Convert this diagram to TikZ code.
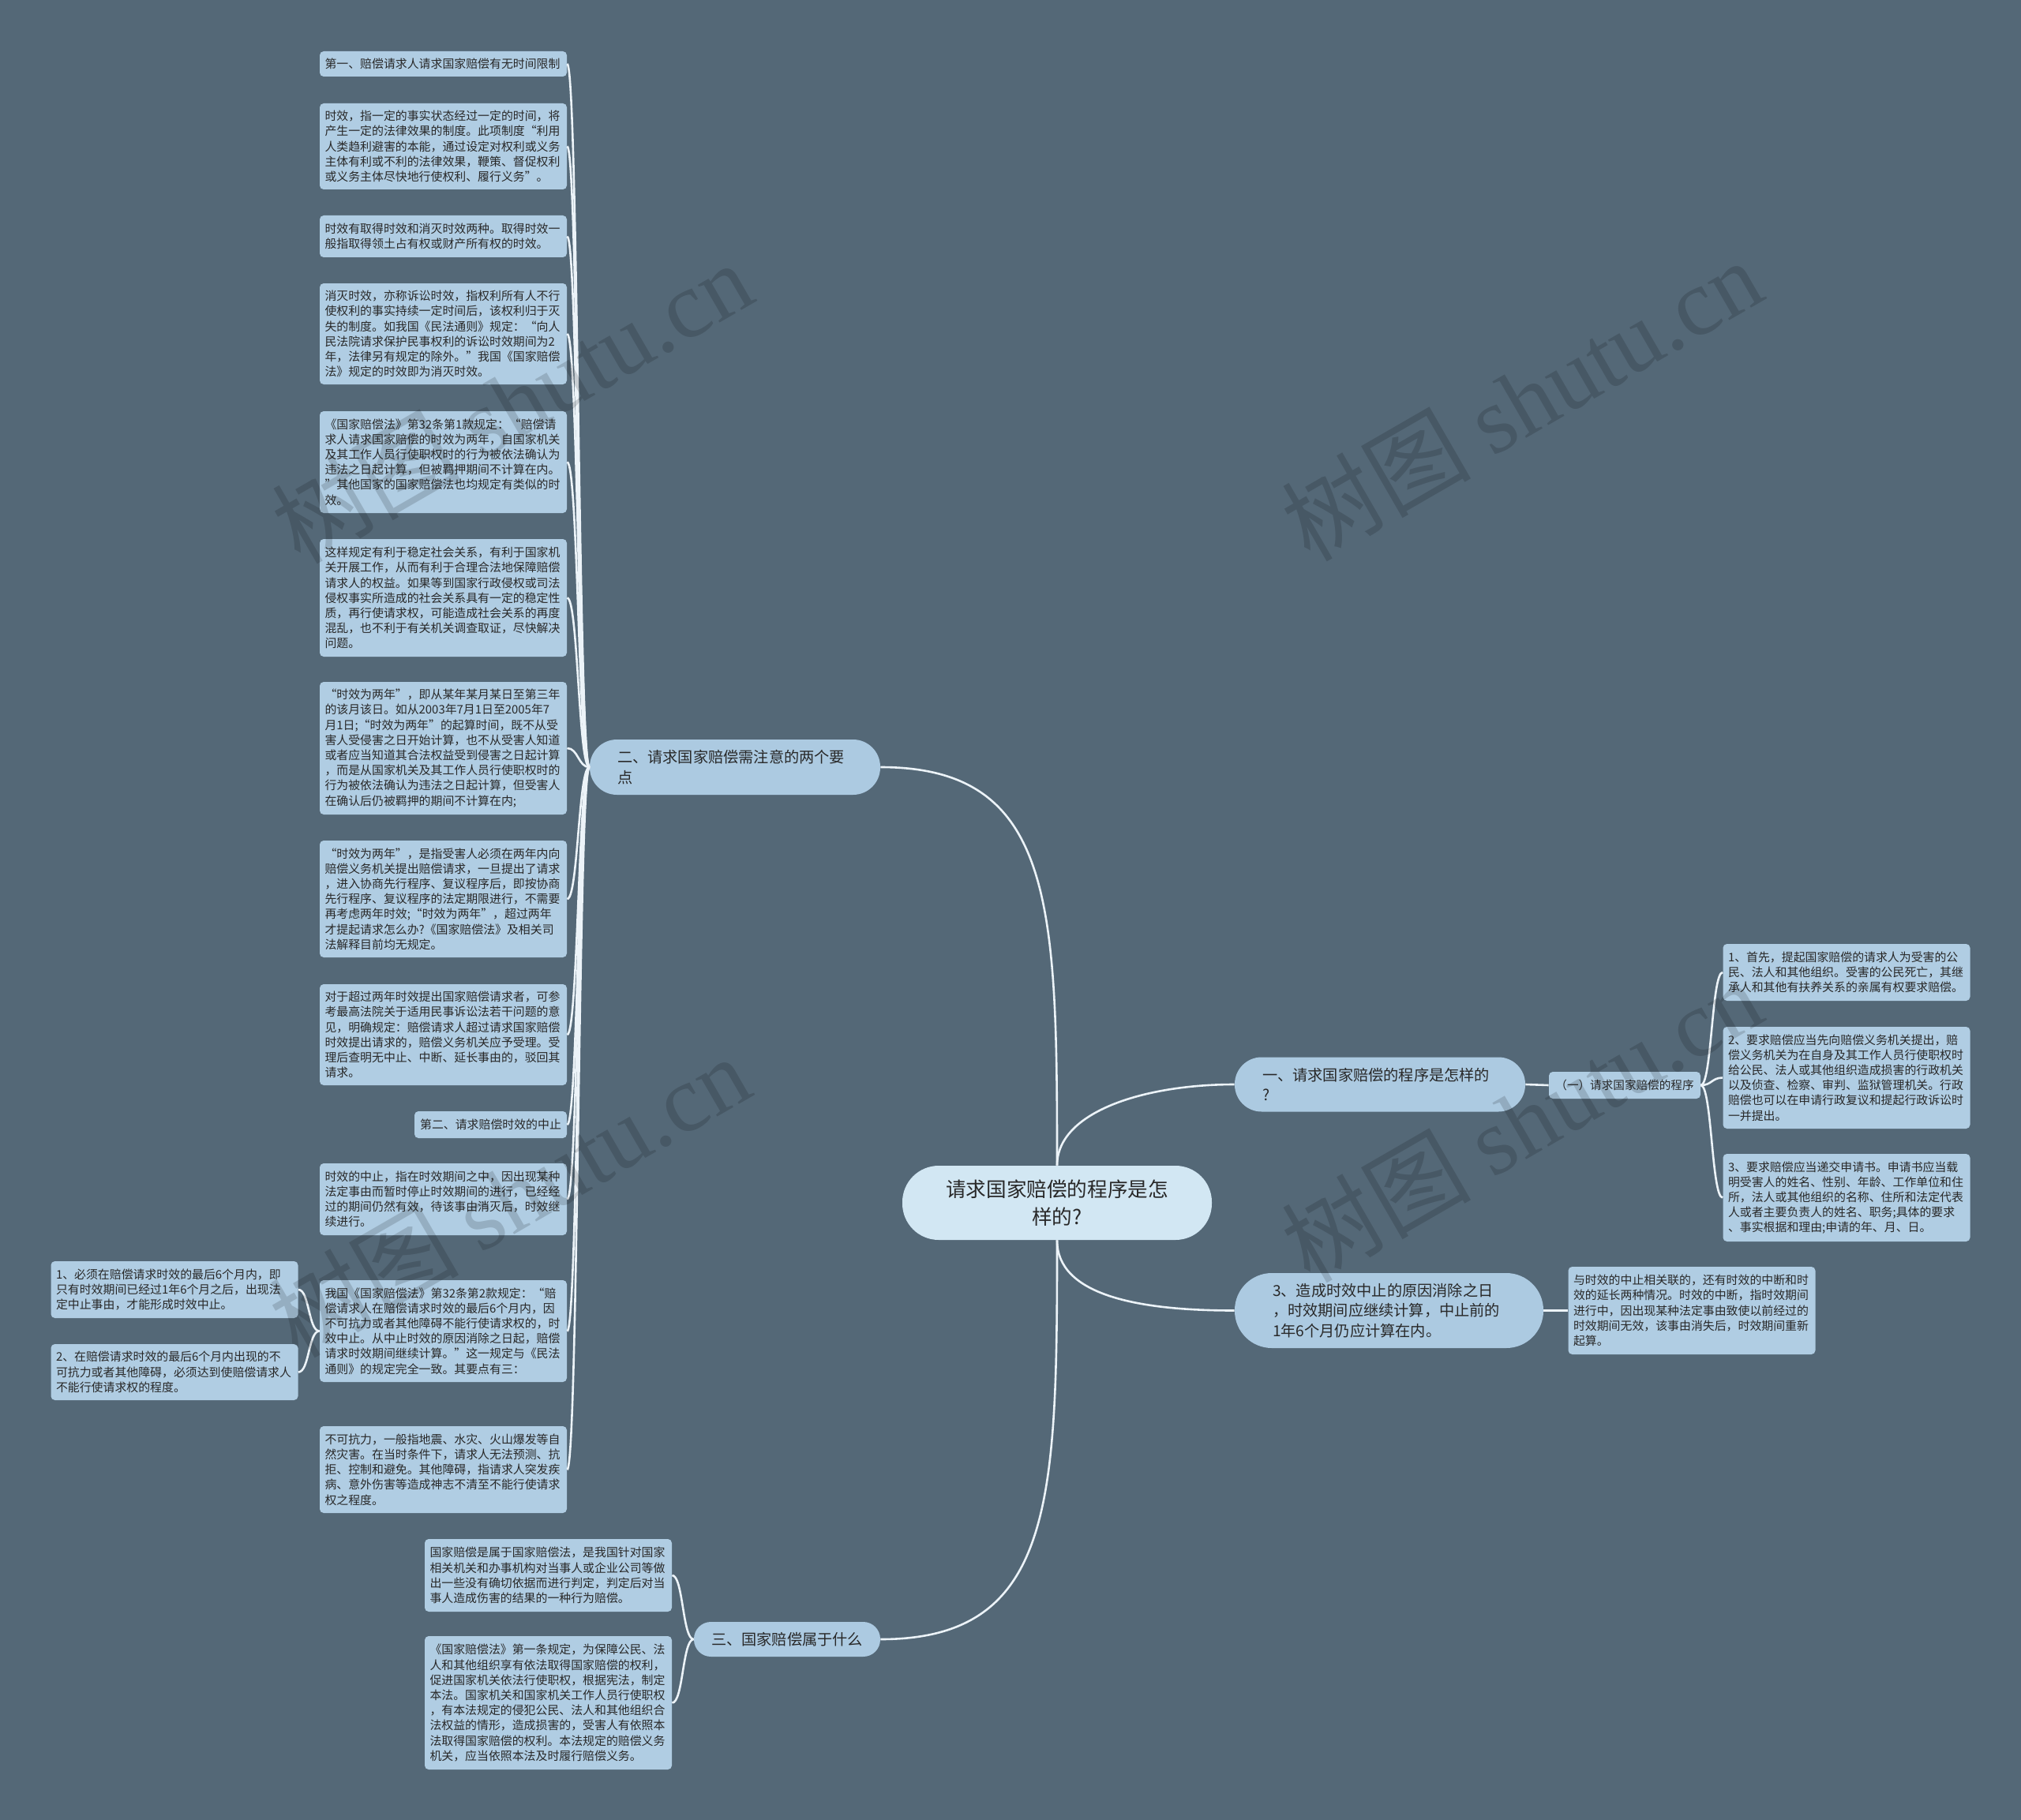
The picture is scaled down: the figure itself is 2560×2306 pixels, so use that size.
\documentclass[tikz,border=0pt]{standalone}
\usepackage{fontspec}
\setmainfont{Noto Sans CJK SC}
\newfontfamily\wmserif{Liberation Serif}
\definecolor{bgc}{RGB}{84,104,119}
\definecolor{leafc}{RGB}{176,205,227}
\definecolor{lvc}{RGB}{172,202,225}
\definecolor{rootc}{RGB}{210,231,243}
\definecolor{txtc}{RGB}{40,40,40}
\definecolor{linec}{RGB}{236,243,248}
\tikzset{
  leaf/.style={fill=leafc, rounded corners=2.5pt, text=txtc, font=\fontsize{7.45pt}{9.6pt}\selectfont, align=left, text width=150pt, inner xsep=3.25pt, inner ysep=2pt},
  ht/.style={minimum height=#1*0.5pt},
  lvone/.style={fill=lvc, text=txtc, font=\fontsize{9.6pt}{12.8pt}\selectfont, align=left},
  conn/.style={draw=linec, line width=1.3pt},
  wm/.style={text=black, text opacity=0.15, font=\fontsize{60pt}{60pt}\selectfont, inner sep=0pt},
}
\newcommand\lcurve[2]{\draw[conn] (#1.west) .. controls +(-14,0) and +(14,0) .. (#2.east);}
\newcommand\rcurve[2]{\draw[conn] (#1.east) .. controls +(14,0) and +(-14,0) .. (#2.west);}
\begin{document}
\begin{tikzpicture}[x=0.5pt,y=-0.5pt]
\fill[bgc] (0,0) rectangle (2560,2306);
\useasboundingbox (0,0) rectangle (2560,2306);

% root
\node[fill=rootc, text=txtc, rounded corners=46*0.5pt, minimum width=392*0.5pt, minimum height=94*0.5pt, align=center, font=\fontsize{12.8pt}{17.5pt}\selectfont, inner sep=0pt] (root) at (1339,1524) {请求国家赔偿的程序是怎\\样的?};

% level 1
\node[lvone, rounded corners=34*0.5pt, text width=149pt, inner xsep=17.5pt, inner ysep=0pt, minimum height=69*0.5pt] (n1) at (1748,1374) {一、请求国家赔偿的程序是怎样的\\?};
\node[lvone, rounded corners=47*0.5pt, text width=147.5pt, inner xsep=24pt, inner ysep=0pt, minimum height=95*0.5pt] (n4) at (1759.5,1660.5) {3、造成时效中止的原因消除之日\\，时效期间应继续计算，中止前的\\1年6个月仍应计算在内。};
\node[lvone, rounded corners=34.5*0.5pt, text width=149pt, inner xsep=17.5pt, inner ysep=0pt, minimum height=70*0.5pt] (n2) at (931,972) {二、请求国家赔偿需注意的两个要\\点};
\node[lvone, rounded corners=21.5*0.5pt, align=center, minimum width=236*0.5pt, minimum height=44*0.5pt, inner sep=0pt] (n3) at (997,2077) {三、国家赔偿属于什么};

% level 2 right
\node[fill=leafc, text=txtc, rounded corners=2.5pt, font=\fontsize{7.3pt}{9pt}\selectfont, minimum width=192*0.5pt, minimum height=34*0.5pt, inner sep=0pt] (s1) at (2058,1375) {（一）请求国家赔偿的程序};

% right leaves
\node[leaf, ht=72] (r1) at (2339,1232) {1、首先，提起国家赔偿的请求人为受害的公\\民、法人和其他组织。受害的公民死亡，其继\\承人和其他有扶养关系的亲属有权要求赔偿。};
\node[leaf, ht=129] (r2) at (2339,1365.5) {2、要求赔偿应当先向赔偿义务机关提出，赔\\偿义务机关为在自身及其工作人员行使职权时\\给公民、法人或其他组织造成损害的行政机关\\以及侦查、检察、审判、监狱管理机关。行政\\赔偿也可以在申请行政复议和提起行政诉讼时\\一并提出。};
\node[leaf, ht=111] (r3) at (2339,1517.5) {3、要求赔偿应当递交申请书。申请书应当载\\明受害人的姓名、性别、年龄、工作单位和住\\所，法人或其他组织的名称、住所和法定代表\\人或者主要负责人的姓名、职务;具体的要求\\、事实根据和理由;申请的年、月、日。};
\node[leaf, ht=111] (rb) at (2143,1660.5) {与时效的中止相关联的，还有时效的中断和时\\效的延长两种情况。时效的中断，指时效期间\\进行中，因出现某种法定事由致使以前经过的\\时效期间无效，该事由消失后，时效期间重新\\起算。};

% left leaves
\node[leaf, ht=32] (l1) at (561.5,81) {第一、赔偿请求人请求国家赔偿有无时间限制};
\node[leaf, ht=109] (l2) at (561.5,185.5) {时效，指一定的事实状态经过一定的时间，将\\产生一定的法律效果的制度。此项制度“利用\\人类趋利避害的本能，通过设定对权利或义务\\主体有利或不利的法律效果，鞭策、督促权利\\或义务主体尽快地行使权利、履行义务”。};
\node[leaf, ht=53] (l3) at (561.5,299.5) {时效有取得时效和消灭时效两种。取得时效一\\般指取得领土占有权或财产所有权的时效。};
\node[leaf, ht=128] (l4) at (561.5,423) {消灭时效，亦称诉讼时效，指权利所有人不行\\使权利的事实持续一定时间后，该权利归于灭\\失的制度。如我国《民法通则》规定：“向人\\民法院请求保护民事权利的诉讼时效期间为2\\年，法律另有规定的除外。”我国《国家赔偿\\法》规定的时效即为消灭时效。};
\node[leaf, ht=129] (l5) at (561.5,585.5) {《国家赔偿法》第32条第1款规定：“赔偿请\\求人请求国家赔偿的时效为两年，自国家机关\\及其工作人员行使职权时的行为被依法确认为\\违法之日起计算，但被羁押期间不计算在内。\\”其他国家的国家赔偿法也均规定有类似的时\\效。};
\node[leaf, ht=149] (l6) at (561.5,757.5) {这样规定有利于稳定社会关系，有利于国家机\\关开展工作，从而有利于合理合法地保障赔偿\\请求人的权益。如果等到国家行政侵权或司法\\侵权事实所造成的社会关系具有一定的稳定性\\质，再行使请求权，可能造成社会关系的再度\\混乱，也不利于有关机关调查取证，尽快解决\\问题。};
\node[leaf, ht=168] (l7) at (561.5,948) {“时效为两年”，即从某年某月某日至第三年\\的该月该日。如从2003年7月1日至2005年7\\月1日;“时效为两年”的起算时间，既不从受\\害人受侵害之日开始计算，也不从受害人知道\\或者应当知道其合法权益受到侵害之日起计算\\，而是从国家机关及其工作人员行使职权时的\\行为被依法确认为违法之日起计算，但受害人\\在确认后仍被羁押的期间不计算在内;};
\node[leaf, ht=148] (l8) at (561.5,1139) {“时效为两年”，是指受害人必须在两年内向\\赔偿义务机关提出赔偿请求，一旦提出了请求\\，进入协商先行程序、复议程序后，即按协商\\先行程序、复议程序的法定期限进行，不需要\\再考虑两年时效;“时效为两年”，超过两年\\才提起请求怎么办?《国家赔偿法》及相关司\\法解释目前均无规定。};
\node[leaf, ht=128] (l9) at (561.5,1311) {对于超过两年时效提出国家赔偿请求者，可参\\考最高法院关于适用民事诉讼法若干问题的意\\见，明确规定：赔偿请求人超过请求国家赔偿\\时效提出请求的，赔偿义务机关应予受理。受\\理后查明无中止、中断、延长事由的，驳回其\\请求。};
\node[fill=leafc, rounded corners=2.5pt, text=txtc, font=\fontsize{7.45pt}{9.6pt}\selectfont, minimum width=193*0.5pt, minimum height=34*0.5pt, inner sep=0pt] (l10) at (621.5,1425) {第二、请求赔偿时效的中止};
\node[leaf, ht=91] (l11) at (561.5,1519.5) {时效的中止，指在时效期间之中，因出现某种\\法定事由而暂时停止时效期间的进行，已经经\\过的期间仍然有效，待该事由消灭后，时效继\\续进行。};
\node[leaf, ht=129] (l12) at (561.5,1686.5) {我国《国家赔偿法》第32条第2款规定：“赔\\偿请求人在赔偿请求时效的最后6个月内，因\\不可抗力或者其他障碍不能行使请求权的，时\\效中止。从中止时效的原因消除之日起，赔偿\\请求时效期间继续计算。”这一规定与《民法\\通则》的规定完全一致。其要点有三：};
\node[leaf, ht=110] (l13) at (561.5,1862) {不可抗力，一般指地震、水灾、火山爆发等自\\然灾害。在当时条件下，请求人无法预测、抗\\拒、控制和避免。其他障碍，指请求人突发疾\\病、意外伤害等造成神志不清至不能行使请求\\权之程度。};

\node[leaf, ht=72] (ll1) at (221,1634) {1、必须在赔偿请求时效的最后6个月内，即\\只有时效期间已经过1年6个月之后，出现法\\定中止事由，才能形成时效中止。};
\node[leaf, ht=71] (ll2) at (221,1738.5) {2、在赔偿请求时效的最后6个月内出现的不\\可抗力或者其他障碍，必须达到使赔偿请求人\\不能行使请求权的程度。};

% bottom leaves
\node[leaf, ht=92] (b1) at (694.5,1996) {国家赔偿是属于国家赔偿法，是我国针对国家\\相关机关和办事机构对当事人或企业公司等做\\出一些没有确切依据而进行判定，判定后对当\\事人造成伤害的结果的一种行为赔偿。};
\node[leaf, ht=169] (b2) at (694.5,2157.5) {《国家赔偿法》第一条规定，为保障公民、法\\人和其他组织享有依法取得国家赔偿的权利，\\促进国家机关依法行使职权，根据宪法，制定\\本法。国家机关和国家机关工作人员行使职权\\，有本法规定的侵犯公民、法人和其他组织合\\法权益的情形，造成损害的，受害人有依照本\\法取得国家赔偿的权利。本法规定的赔偿义务\\机关，应当依照本法及时履行赔偿义务。};

% connectors from root
\draw[conn] (root.north) .. controls +(0,-330) and +(220,0) .. (n2.east);
\draw[conn] (root.south) .. controls +(0,330) and +(220,0) .. (n3.east);
\draw[conn] (root.north) .. controls +(0,-68) and +(-114,0) .. (n1.west);
\draw[conn] (root.south) .. controls +(0,69) and +(-124,0) .. (n4.west);

% right side
\draw[conn] (n1.east) -- (s1.west);
\draw[conn] (n4.east) -- (rb.west);
\rcurve{s1}{r1}
\rcurve{s1}{r2}
\rcurve{s1}{r3}

% left side
\foreach \c in {l1,l2,l3,l4,l5,l6,l7,l8,l9,l10,l11,l12,l13} {\lcurve{n2}{\c}}
\lcurve{l12}{ll1}
\lcurve{l12}{ll2}
\lcurve{n3}{b1}
\lcurve{n3}{b2}

% watermarks
\node[wm, rotate=30] (wm1) at (648,509) {树图 {\wmserif shutu.cn}};
\node[wm, rotate=30] (wm2) at (1927,506) {树图 {\wmserif shutu.cn}};
\node[wm, rotate=30] (wm3) at (645,1515) {树图 {\wmserif shutu.cn}};
\node[wm, rotate=30] (wm4) at (1927,1420) {树图 {\wmserif shutu.cn}};
\end{tikzpicture}
\end{document}
